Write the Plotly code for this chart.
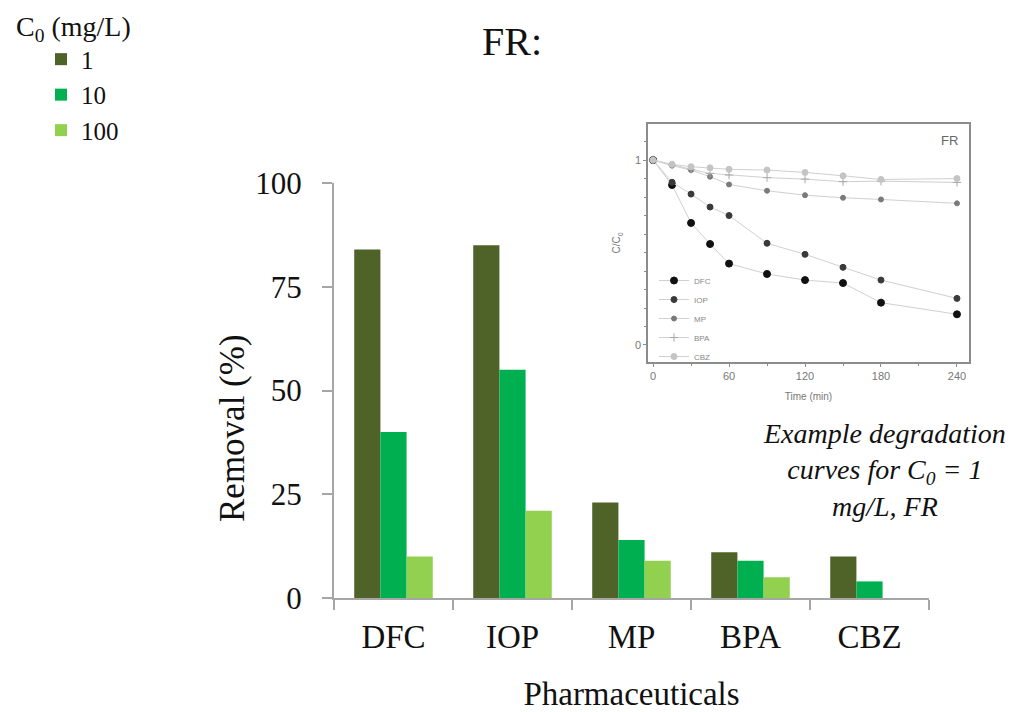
import plotly.graph_objects as go

# ---- main bar chart data ----
categories = ["DFC", "IOP", "MP", "BPA", "CBZ"]
removal_1 = [84, 85, 23, 11, 10]
removal_10 = [40, 55, 14, 9, 4]
removal_100 = [10, 21, 9, 5, 0]
y_ticks = [0, 25, 50, 75, 100]

# ---- inset degradation curves (C/C0 vs time, C0 = 1 mg/L) ----
time_min = [0, 15, 30, 45, 60, 90, 120, 150, 180, 240]
cc0_dfc = [1.0, 0.865, 0.66, 0.546, 0.44, 0.384, 0.351, 0.335, 0.229, 0.166]
cc0_iop = [1.0, 0.88, 0.816, 0.746, 0.70, 0.55, 0.49, 0.42, 0.351, 0.252]
cc0_mp = [1.0, 0.97, 0.946, 0.91, 0.868, 0.834, 0.81, 0.796, 0.787, 0.766]
cc0_bpa = [1.0, 0.973, 0.95, 0.928, 0.919, 0.905, 0.897, 0.883, 0.886, 0.879]
cc0_cbz = [1.0, 0.977, 0.964, 0.958, 0.95, 0.946, 0.933, 0.915, 0.895, 0.90]
inset_xticks = [0, 60, 120, 180, 240]

SERIF = "Liberation Serif, Times New Roman, serif"
SANS = "Liberation Sans, Arial, sans-serif"
W, H = 1015, 712

def px_x(p):
    return p / W

def px_y(p):
    return 1 - p / H

fig = go.Figure()

bar_colors = ["#4F6228", "#00B050", "#92D050"]
for name, vals, col in zip(["1", "10", "100"], [removal_1, removal_10, removal_100], bar_colors):
    fig.add_trace(go.Bar(
        x=categories, y=vals, name=name, marker=dict(color=col, line=dict(width=0)),
        xaxis="x", yaxis="y", legend="legend",
    ))

inset_series = [
    ("DFC", cc0_dfc, "#111111", "circle", 7),
    ("IOP", cc0_iop, "#3a3a3a", "circle", 6),
    ("MP", cc0_mp, "#7a7a7a", "circle", 5),
    ("BPA", cc0_bpa, "#a8a8a8", "cross-thin", 6),
    ("CBZ", cc0_cbz, "#c4c4c4", "circle", 6),
]
for name, vals, col, sym, sz in inset_series:
    fig.add_trace(go.Scatter(
        x=time_min, y=vals, name=name, mode="lines+markers",
        line=dict(color="#d0d0d0", width=1),
        marker=dict(color=col, symbol=sym, size=sz, line=dict(color=col, width=1)),
        xaxis="x2", yaxis="y2", legend="legend2",
    ))

axis_gray = "#A6A6A6"
fig.update_layout(
    width=W, height=H,
    margin=dict(l=0, r=0, t=0, b=0, autoexpand=False),
    paper_bgcolor="white", plot_bgcolor="white",
    barmode="group", bargap=0.34, bargroupgap=0,
    font=dict(family=SERIF, color="#111111"),
    xaxis=dict(
        domain=[px_x(334), px_x(929)], anchor="y",
        showline=True, linecolor=axis_gray, linewidth=2,
        ticks="outside", ticklen=10, tickwidth=2, tickcolor=axis_gray,
        tickson="boundaries", tickfont=dict(size=33, family=SERIF, color="#111"),
        ticklabelstandoff=8,
        title=dict(text="Pharmaceuticals", font=dict(size=33, family=SERIF), standoff=30),
        showgrid=False, zeroline=False, automargin=False,
    ),
    yaxis=dict(
        domain=[px_y(598), px_y(183)], anchor="x",
        range=[0, 100], tickvals=y_ticks,
        showline=True, linecolor=axis_gray, linewidth=2,
        ticks="outside", ticklen=10, tickwidth=2, tickcolor=axis_gray,
        tickfont=dict(size=31, family=SERIF, color="#111"), ticklabelstandoff=14,
        showgrid=False, zeroline=False, automargin=False,
    ),
    xaxis2=dict(
        domain=[px_x(648), px_x(969)], anchor="y2",
        range=[-4, 249.5], tickvals=inset_xticks,
        showline=True, mirror=True, linecolor="#8c8c8c", linewidth=1.5,
        ticks="outside", ticklen=3, tickcolor="#8c8c8c",
        minor=dict(dtick=30, ticks="outside", ticklen=2, tickcolor="#8c8c8c"),
        tickfont=dict(size=11, family=SANS, color="#777"),
        title=dict(text="Time (min)", font=dict(size=10, family=SANS, color="#777"), standoff=12),
        showgrid=False, zeroline=False, automargin=False,
    ),
    yaxis2=dict(
        domain=[px_y(362), px_y(124)], anchor="x2",
        range=[-0.092, 1.195], tickvals=[0, 1],
        showline=True, mirror=True, linecolor="#8c8c8c", linewidth=1.5,
        ticks="outside", ticklen=3, tickcolor="#8c8c8c",
        minor=dict(dtick=0.1, ticks="outside", ticklen=2, tickcolor="#8c8c8c"),
        tickfont=dict(size=11, family=SANS, color="#777"),
        title=dict(text="C/C<sub>0</sub>", font=dict(size=10, family=SANS, color="#777"), standoff=12),
        showgrid=False, zeroline=False, automargin=False,
    ),
    legend=dict(
        x=px_x(14), y=1, xanchor="left", yanchor="top",
        title=dict(text="C<sub>0</sub> (mg/L)", font=dict(size=28, family=SERIF), side="top"),
        font=dict(size=25, family=SERIF, color="#111"),
        indentation=27, tracegroupgap=0, itemwidth=30,
        bgcolor="rgba(0,0,0,0)",
    ),
    legend2=dict(
        x=px_x(654), y=px_y(266), xanchor="left", yanchor="top",
        font=dict(size=8, family=SANS, color="#888"),
        tracegroupgap=0, itemwidth=30,
        bgcolor="rgba(0,0,0,0)",
    ),
    annotations=[
        dict(text="FR:", x=px_x(512), y=px_y(42), xref="paper", yref="paper",
             showarrow=False, font=dict(size=40, family=SERIF, color="#111"),
             xanchor="center", yanchor="middle"),
        dict(text="Removal (%)", x=px_x(232), y=px_y(428), xref="paper", yref="paper",
             showarrow=False, textangle=-90, font=dict(size=35, family=SERIF, color="#111"),
             xanchor="center", yanchor="middle"),
        dict(text="FR", x=px_x(960), y=px_y(140), xref="paper", yref="paper",
             showarrow=False, font=dict(size=13, family=SANS, color="#666"),
             xanchor="right", yanchor="middle"),
        dict(text="<i>Example degradation<br>curves for C<sub>0</sub> = 1<br>mg/L, FR</i>",
             x=px_x(884), y=px_y(470), xref="paper", yref="paper",
             showarrow=False, align="center",
             font=dict(size=28, family=SERIF, color="#111"),
             xanchor="center", yanchor="middle"),
    ],
)

fig.write_html("out.html")
